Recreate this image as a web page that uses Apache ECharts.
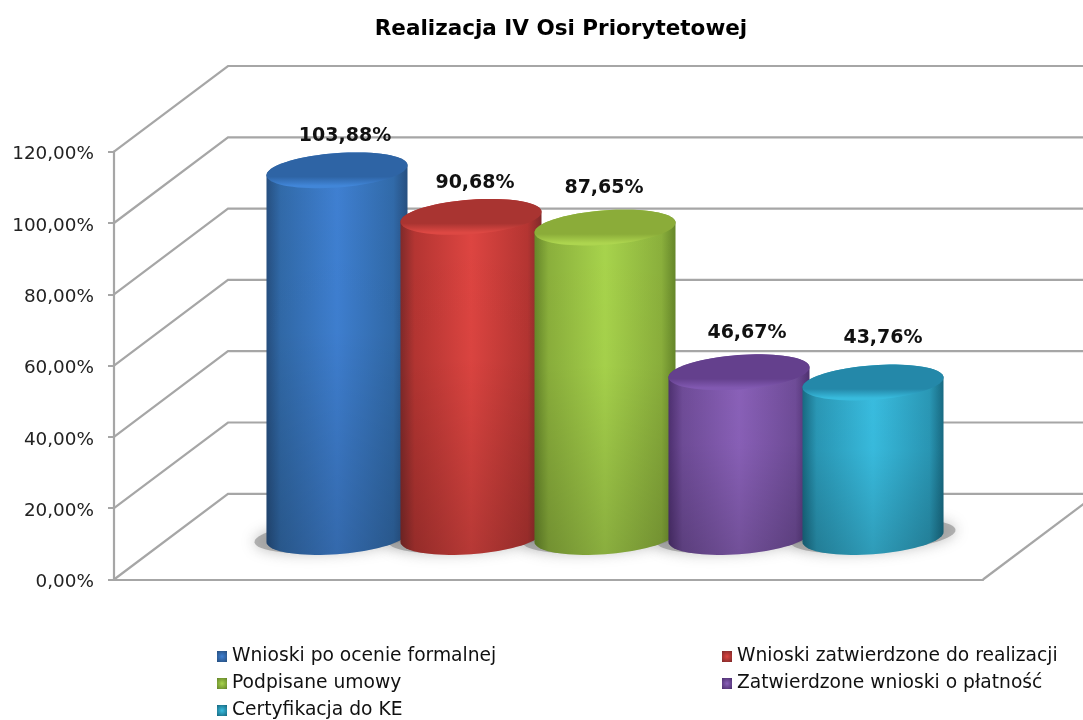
<!DOCTYPE html>
<html>
<head>
<meta charset="utf-8">
<style>html,body{margin:0;padding:0;background:#fff}#c{width:1083px;height:720px}</style>
<script src="https://cdn.jsdelivr.net/npm/echarts@6/dist/echarts.min.js"></script>
</head>
<body>
<div id="c"></div>
<script>
const titleText = 'Realizacja IV Osi Priorytetowej';
const categories = ['Wnioski po ocenie formalnej','Wnioski zatwierdzone do realizacji','Podpisane umowy','Zatwierdzone wnioski o płatność','Certyfikacja do KE'];
const values = [103.88, 90.68, 87.65, 46.67, 43.76];
const yTicks = [0, 20, 40, 60, 80, 100, 120];

const bodyLight = ['#3f80d2','#de4541','#a8d44c','#8a61b9','#39bde0'];
const bodyMid   = ['#316aa9','#b53532','#8bb03c','#6f4c98','#2a98b6'];
const bodyDark  = ['#264f80','#802a2a','#66872a','#4e3070','#186a82'];
const capColor  = ['#2e64a5','#a93431','#8bac39','#64408d','#2488a9'];
const rimColor  = ['#4186d8','#dd4843','#add54f','#8159b1','#38bbdd'];
const labelNudge = [[8,-34],[4,-34],[-1,-40],[8,-39],[10,-44]];
const legendSlots = [[217,647],[722,647],[217,674],[722,674],[217,701]];

const FONT = '"DejaVu Sans", Verdana, sans-serif';
const GRID_COLOR = '#a6a6a6';
const DEPTH_X = 114, DEPTH_Y = 85.7;
const TILT = -4.3 * Math.PI / 180;

function ellipsePts(cx, cy, a, b, from, to, n) {
  const pts = [], c = Math.cos(TILT), s = Math.sin(TILT);
  for (let i = 0; i <= n; i++) {
    const t = from + (to - from) * i / n;
    pts.push([cx + a*Math.cos(t)*c - b*Math.sin(t)*s, cy + a*Math.cos(t)*s + b*Math.sin(t)*c]);
  }
  return pts;
}

function renderWall(params, api) {
  const cs = params.coordSys, v = api.value(1);
  const y = api.coord([0, v])[1], x0 = cs.x, x1 = cs.x + cs.width;
  const pts = [[x0, y], [x0 + DEPTH_X, y - DEPTH_Y], [x1 + DEPTH_X, y - DEPTH_Y]];
  const children = [{type:'polyline', shape:{points:pts}, style:{fill:'none', stroke:GRID_COLOR, lineWidth:2.2}}];
  if (v === 0) children.push({type:'line', shape:{x1:x1, y1:y, x2:x1 + DEPTH_X, y2:y - DEPTH_Y}, style:{stroke:GRID_COLOR, lineWidth:2.2}});
  return {type:'group', children};
}

function renderShadow(params, api) {
  const band = api.size([1, 0])[0];
  const base = api.coord([api.value(0), 0]);
  const a = band * 0.5276, b = a * 0.243;
  return {type:'polygon', shape:{points:ellipsePts(base[0], base[1] - 1, a*1.17, b*0.95, 0, 2*Math.PI, 72)},
    style:{fill:'rgba(135,135,135,0.6)', shadowBlur:14, shadowColor:'rgba(120,120,120,0.8)'}};
}

function makeRender(idx) {
  return function (params, api) {
    const band = api.size([1, 0])[0];
    const top = api.coord([idx, api.value(1)]);
    const base = api.coord([idx, 0]);
    const cx = base[0];
    const a = band * 0.5276, b = a * 0.243;
    const c = Math.cos(TILT), s = Math.sin(TILT);
    const t0 = Math.atan2(-b*s, a*c);
    const body = [];
    ellipsePts(cx, base[1], a, b, t0, t0 + Math.PI, 40).forEach(p => body.push(p));
    ellipsePts(cx, top[1], a, b, t0 + Math.PI, t0 + 2*Math.PI, 40).forEach(p => body.push(p));
    const hGrad = {type:'linear', x:0, y:0, x2:1, y2:0, colorStops:[
      {offset:0, color:bodyDark[idx]},
      {offset:0.1, color:bodyMid[idx]},
      {offset:0.5, color:bodyLight[idx]},
      {offset:0.9, color:bodyMid[idx]},
      {offset:1, color:bodyDark[idx]}]};
    const vGrad = {type:'linear', x:0, y:0, x2:0, y2:1, colorStops:[
      {offset:0, color:'rgba(0,0,0,0)'},
      {offset:0.45, color:'rgba(0,0,0,0.02)'},
      {offset:1, color:'rgba(0,0,0,0.18)'}]};
    const capGrad = {type:'linear', x:0, y:0, x2:0, y2:1, colorStops:[
      {offset:0, color:capColor[idx]},
      {offset:0.68, color:capColor[idx]},
      {offset:0.93, color:rimColor[idx]},
      {offset:1, color:rimColor[idx]}]};
    const n = labelNudge[idx];
    return {type:'group', children:[
      {type:'polygon', shape:{points:body}, style:{fill:hGrad}},
      {type:'polygon', shape:{points:body}, style:{fill:vGrad}},
      {type:'polygon', shape:{points:ellipsePts(cx, top[1], a, b, 0, 2*Math.PI, 72)}, style:{fill:capGrad}},
      {type:'text', style:{text:values[idx].toFixed(2).replace('.', ',') + '%', x:cx + n[0], y:top[1] + n[1],
        align:'center', verticalAlign:'middle', fill:'#111', font:'bold 19px ' + FONT}}
    ]};
  };
}

const chart = echarts.init(document.getElementById('c'), null, {renderer:'canvas', width:1083, height:720});
chart.setOption({
  animation:false,
  backgroundColor:'#fff',
  title:{text:titleText, left:556, top:13, textAlign:'center',
    textStyle:{fontFamily:FONT, fontSize:21.5, fontWeight:'bold', color:'#000'}},
  legend: categories.map((name, i) => ({
    data:[name], left:legendSlots[i][0], top:legendSlots[i][1], padding:0,
    icon:'rect', itemWidth:10, itemHeight:11, selectedMode:false,
    itemStyle:{color:{type:'radial', x:0.5, y:0.5, r:0.7, colorStops:[
      {offset:0, color:bodyLight[i]},{offset:1, color:bodyDark[i]}]}},
    textStyle:{fontFamily:FONT, fontSize:18.7, color:'#111'}
  })),
  grid:[
    {left:114, top:151.7, width:869, height:427.8},
    {left:270, top:113.4, width:670, height:423.6}
  ],
  xAxis:[
    {gridIndex:0, type:'category', data:categories, axisLabel:{show:false}, axisTick:{show:false},
      axisLine:{lineStyle:{color:GRID_COLOR, width:2.2}}},
    {gridIndex:1, type:'category', data:categories, show:false}
  ],
  yAxis:[
    {gridIndex:0, type:'value', min:0, max:120, interval:20, splitLine:{show:false},
      axisLine:{show:true, lineStyle:{color:GRID_COLOR, width:2.2}},
      axisTick:{show:true, length:6, lineStyle:{color:GRID_COLOR, width:2}},
      axisLabel:{margin:20, fontFamily:FONT, fontSize:18.4, color:'#222', verticalAlign:'top', lineHeight:6,
        formatter:v => v.toFixed(2).replace('.', ',') + '%'}},
    {gridIndex:1, type:'value', min:0, max:120, interval:20, show:false}
  ],
  series:[
    {type:'custom', name:'wall', xAxisIndex:0, yAxisIndex:0, silent:true,
      data:yTicks.map(v => [0, v]), renderItem:renderWall},
    {type:'custom', name:'shadow', xAxisIndex:1, yAxisIndex:1, silent:true,
      data:values.map((v, i) => [i, v]), renderItem:renderShadow},
    ...categories.map((name, i) => ({
      type:'custom', name, xAxisIndex:1, yAxisIndex:1,
      itemStyle:{color:bodyLight[i]},
      data:[[i, values[i]]], renderItem:makeRender(i)
    }))
  ]
});
</script>
</body>
</html>
